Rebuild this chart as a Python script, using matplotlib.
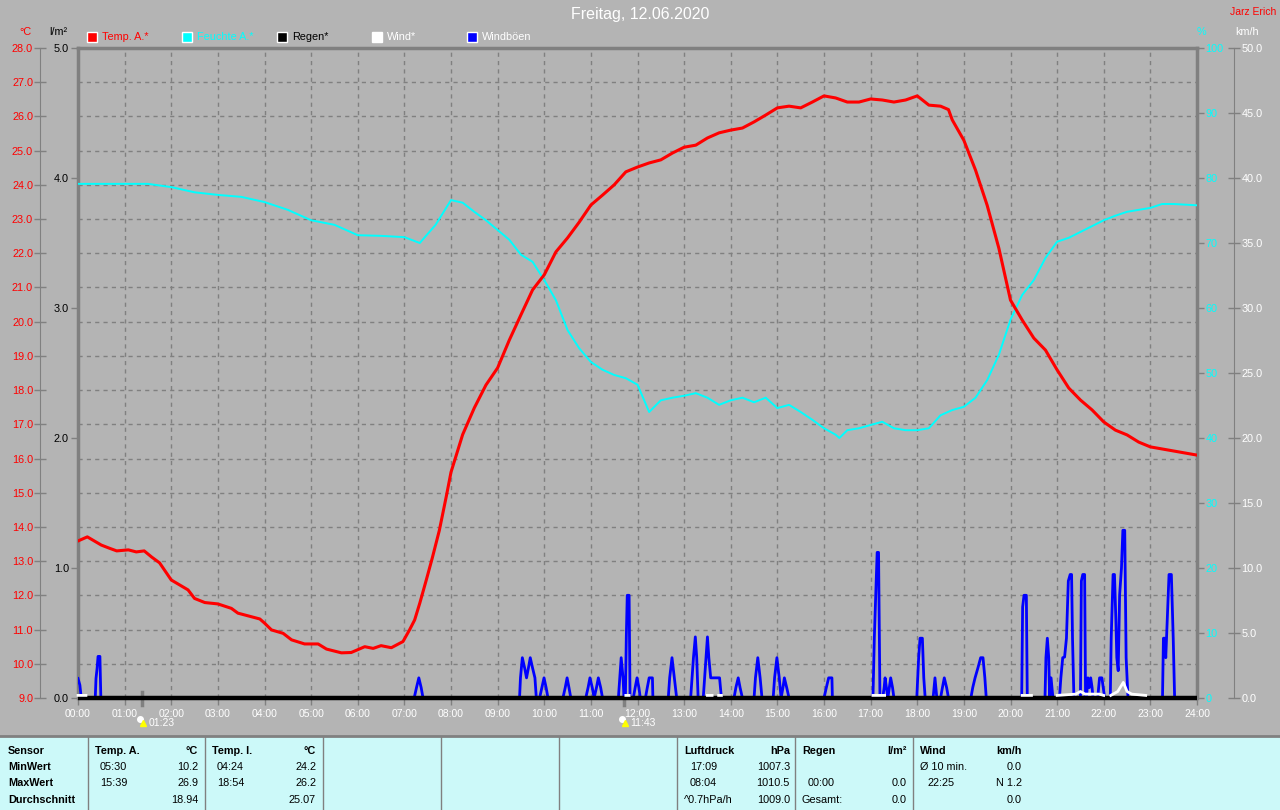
import numpy as np
import matplotlib
matplotlib.use("Agg")
import matplotlib.pyplot as plt
from matplotlib.patches import Rectangle

plt.rcParams['font.family'] = ['Liberation Sans', 'DejaVu Sans']

W, H = 1280, 810
BG = "#b4b4b4"
GRID = "#808080"
TABLE_BG = "#ccf9f9"
nan = np.nan

# outside temperature (hours, degC)
temp_h = [0.0, 0.2, 0.5, 0.67, 0.83, 1.08, 1.25, 1.42, 1.58, 1.75, 2.0, 2.36, 2.5, 2.72, 3.0,
          3.29, 3.43, 3.9, 4.0, 4.15, 4.4, 4.58, 4.86, 5.15, 5.33, 5.65, 5.86, 6.15, 6.33,
          6.5, 6.72, 6.97, 7.11, 7.22, 7.33, 7.47, 7.6, 7.75, 7.9, 8.0, 8.25, 8.5, 8.75,
          9.0, 9.25, 9.5, 9.75, 10.0, 10.25, 10.5, 10.75, 11.0, 11.25, 11.5, 11.75, 12.0,
          12.25, 12.5, 12.75, 13.0, 13.25, 13.5, 13.75, 14.0, 14.25, 14.5, 14.75, 15.0,
          15.25, 15.5, 15.75, 16.0, 16.25, 16.5, 16.75, 17.0, 17.25, 17.5, 17.75, 18.0,
          18.25, 18.5, 18.67, 18.75, 19.0, 19.25, 19.5, 19.75, 20.0, 20.25, 20.5, 20.75,
          21.0, 21.25, 21.5, 21.75, 22.0, 22.25, 22.5, 22.75, 23.0, 23.5, 24.0]
temp_c = [13.59, 13.71, 13.47, 13.38, 13.3, 13.33, 13.27, 13.3, 13.12, 12.95, 12.45, 12.16,
          11.91, 11.79, 11.75, 11.62, 11.48, 11.31, 11.19, 10.99, 10.89, 10.7, 10.58, 10.58,
          10.43, 10.32, 10.33, 10.5, 10.45, 10.53, 10.47, 10.65, 10.99, 11.28, 11.77, 12.45,
          13.1, 13.9, 14.9, 15.6, 16.7, 17.48, 18.15, 18.65, 19.46, 20.2, 20.93, 21.37,
          22.04, 22.45, 22.91, 23.41, 23.7, 24.0, 24.38, 24.52, 24.64, 24.73, 24.93, 25.1,
          25.16, 25.37, 25.52, 25.6, 25.66, 25.84, 26.04, 26.25, 26.3, 26.25, 26.42, 26.6,
          26.54, 26.42, 26.42, 26.51, 26.48, 26.42, 26.48, 26.6, 26.33, 26.3, 26.2, 25.9,
          25.3, 24.43, 23.4, 22.15, 20.63, 20.05, 19.52, 19.17, 18.59, 18.06, 17.71, 17.42,
          17.07, 16.83, 16.69, 16.48, 16.34, 16.22, 16.1]

# outside humidity (hours, %)
hum_h = [0.0, 1.5, 2.0, 2.5, 3.0, 3.5, 4.0, 4.5, 5.0, 5.5, 6.0, 6.5, 7.0, 7.33, 7.67, 8.0,
         8.25, 8.5, 8.75, 9.0, 9.25, 9.5, 9.75, 10.0, 10.25, 10.5, 10.75, 11.0, 11.25,
         11.5, 11.75, 12.0, 12.25, 12.5, 12.75, 13.0, 13.25, 13.5, 13.75, 14.0, 14.25,
         14.5, 14.75, 15.0, 15.25, 15.5, 15.75, 16.0, 16.25, 16.33, 16.5, 16.75, 17.0,
         17.25, 17.5, 17.75, 18.0, 18.25, 18.5, 18.75, 19.0, 19.25, 19.5, 19.75, 20.0,
         20.25, 20.5, 20.75, 21.0, 21.25, 21.5, 21.75, 22.0, 22.25, 22.5, 22.75, 23.0,
         23.25, 23.5, 24.0]
hum_pct = [79.1, 79.1, 78.6, 77.8, 77.4, 77.1, 76.3, 75.1, 73.5, 72.8, 71.2, 71.1, 70.9,
           70.0, 72.8, 76.6, 76.2, 74.8, 73.5, 72.0, 70.5, 68.2, 67.1, 64.3, 61.2, 56.6,
           53.8, 51.7, 50.5, 49.7, 49.2, 48.2, 44.0, 45.8, 46.2, 46.5, 46.9, 46.2, 45.1,
           45.8, 46.2, 45.5, 46.2, 44.6, 45.1, 44.0, 42.8, 41.5, 40.5, 40.0, 41.2, 41.5,
           42.0, 42.5, 41.5, 41.2, 41.2, 41.5, 43.5, 44.3, 44.8, 46.2, 48.9, 52.8, 58.2,
           62.0, 64.3, 67.7, 70.2, 70.8, 71.7, 72.6, 73.5, 74.2, 74.8, 75.1, 75.4, 76.0,
           76.0, 75.8]

# wind gusts (hours, km/h)
gust_h = [0.0, 0.04, 0.07,
          0.37, 0.386, 0.41, 0.43, 0.47, 0.49,
          7.21, 7.26, 7.31, 7.36, 7.40,
          9.47, 9.49, 9.53, 9.58, 9.62, 9.66, 9.70, 9.75, 9.80, 9.83,
          9.90, 9.95, 9.995, 10.04, 10.08,
          10.40, 10.45, 10.49, 10.53, 10.57,
          10.89, 10.94, 10.98, 11.03, 11.07, 11.12, 11.16, 11.21, 11.25,
          11.59, 11.62, 11.65, 11.69, 11.71, 11.74, 11.76, 11.78, 11.82, 11.84,
          11.91, 11.95, 11.99, 12.03, 12.06,
          12.17, 12.21, 12.25, 12.32, 12.33,
          12.66, 12.69, 12.74, 12.79, 12.84,
          13.14, 13.17, 13.20, 13.24, 13.27, 13.30,
          13.41, 13.44, 13.47, 13.50, 13.53, 13.57, 13.76, 13.80,
          14.07, 14.11, 14.16, 14.20, 14.25,
          14.50, 14.53, 14.58, 14.63, 14.67,
          14.91, 14.94, 14.99, 15.04, 15.08, 15.12, 15.15, 15.20, 15.25,
          16.00, 16.05, 16.10, 16.17, 16.18,
          17.05, 17.08, 17.11, 17.14, 17.17, 17.20,
          17.26, 17.29, 17.31, 17.34, 17.37, 17.40, 17.43, 17.47, 17.50,
          17.99, 18.03, 18.06, 18.11, 18.14, 18.17,
          18.34, 18.38, 18.42,
          18.50, 18.54, 18.58, 18.63, 18.67,
          19.15, 19.19, 19.24, 19.30, 19.36, 19.41, 19.45, 19.48,
          20.24, 20.26, 20.29, 20.34, 20.36,
          20.74, 20.76, 20.79, 20.82, 20.84, 20.87, 20.91,
          21.05, 21.08, 21.12, 21.16, 21.20, 21.24, 21.28, 21.31, 21.33, 21.36,
          21.50, 21.52, 21.55, 21.59, 21.61,
          21.63, 21.66, 21.69, 21.72, 21.75, 21.77,
          21.87, 21.91, 21.96, 21.99, 22.02,
          22.14, 22.16, 22.20, 22.23, 22.26, 22.28, 22.31, 22.34, 22.38, 22.41, 22.45, 22.48, 22.52,
          23.26, 23.28, 23.31, 23.33, 23.37, 23.40, 23.45, 23.49, 23.52]
gust_kmh = [1.5, 1.0, 0,
            0, 1.5, 2.3, 3.2, 3.2, 0,
            0, 0.8, 1.55, 0.8, 0,
            0, 1.55, 3.1, 2.3, 1.55, 2.3, 3.1, 2.3, 1.55, 0,
            0, 0.8, 1.55, 0.8, 0,
            0, 0.8, 1.55, 0.8, 0,
            0, 0.8, 1.55, 0.8, 0, 0.8, 1.55, 0.8, 0,
            0, 1.55, 3.1, 1.55, 0, 0, 4.7, 7.9, 7.9, 0,
            0, 0.8, 1.55, 0.8, 0,
            0, 0.8, 1.55, 1.55, 0,
            0, 1.55, 3.1, 1.55, 0,
            0, 1.55, 3.1, 4.7, 3.1, 0,
            0, 1.55, 3.1, 4.7, 3.1, 1.55, 1.55, 0,
            0, 0.8, 1.55, 0.8, 0,
            0, 1.55, 3.1, 1.55, 0,
            0, 1.55, 3.1, 1.55, 0, 0.8, 1.55, 0.8, 0,
            0, 0.8, 1.55, 1.55, 0,
            0, 4.7, 8.0, 11.2, 11.2, 0,
            0, 0.8, 1.55, 0.8, 0, 0.8, 1.55, 0.8, 0,
            0, 3.1, 4.6, 4.6, 1.55, 0,
            0, 1.55, 0,
            0, 0.8, 1.55, 0.8, 0,
            0, 0.8, 1.55, 2.3, 3.1, 3.1, 1.55, 0,
            0, 7.0, 7.9, 7.9, 0,
            0, 3.1, 4.6, 3.1, 0, 1.55, 0,
            0, 1.55, 3.1, 3.15, 4.6, 9.0, 9.5, 9.5, 4.6, 0,
            0, 9.0, 9.5, 9.5, 0,
            0, 1.55, 0.8, 1.55, 0.8, 0,
            0, 1.55, 1.55, 0.8, 0,
            0, 4.6, 9.5, 9.5, 6.0, 3.1, 2.1, 7.9, 10.0, 12.9, 12.9, 3.1, 0,
            0, 4.6, 4.6, 3.1, 6.8, 9.5, 9.5, 4.6, 0]

# mean wind (hours, km/h), gaps where no value is drawn
wind_h = [0.0, 0.17, nan, 11.75, 11.82, nan, 13.5, 13.6, nan, 13.74, 13.8, nan,
          17.05, 17.3, nan, 20.25, 20.45, nan, 21.0, 21.4, 21.5, 21.6, 21.9, 22.0, nan,
          22.15, 22.3, 22.42, 22.5, 22.6, 22.9]
wind_kmh = [0.2, 0.2, nan, 0.2, 0.2, nan, 0.2, 0.2, nan, 0.2, 0.2, nan,
            0.2, 0.2, nan, 0.2, 0.2, nan, 0.2, 0.3, 0.5, 0.3, 0.3, 0.2, nan,
            0.2, 0.5, 1.2, 0.5, 0.3, 0.2]

# rain (hours, l/m2)
rain_h = [0.0, 24.0]
rain_mm = [0.0, 0.0]

hour_labels = ["%02d:00" % h for h in range(25)]
temp_ticks = list(range(9, 29))
rain_ticks = [0, 1, 2, 3, 4, 5]
hum_ticks = list(range(0, 101, 10))
wind_ticks = list(range(0, 51, 5))

legend_names = ["Temp. A.*", "Feuchte A.*", "Regen*", "Wind*", "Windböen"]
legend_fill = ["red", "cyan", "black", "white", "blue"]
legend_text = ["red", "cyan", "black", "white", "white"]

# summary table below the chart: (text, x, y, align, bold)
table_cells = [
    ("Sensor", 8, 751, "left", True), ("MinWert", 8, 767, "left", True),
    ("MaxWert", 8, 783, "left", True), ("Durchschnitt", 8, 800, "left", True),
    ("Temp. A.", 95, 751, "left", True), ("°C", 198, 751, "right", True),
    ("05:30", 100, 767, "left", False), ("10.2", 198, 767, "right", False),
    ("15:39", 100, 783, "left", False), ("26.9", 198, 783, "right", False),
    ("18.94", 198, 800, "right", False),
    ("Temp. I.", 212, 751, "left", True), ("°C", 316, 751, "right", True),
    ("04:24", 217, 767, "left", False), ("24.2", 316, 767, "right", False),
    ("18:54", 217, 783, "left", False), ("26.2", 316, 783, "right", False),
    ("25.07", 316, 800, "right", False),
    ("Luftdruck", 684, 751, "left", True), ("hPa", 790, 751, "right", True),
    ("17:09", 690, 767, "left", False), ("1007.3", 790, 767, "right", False),
    ("08:04", 690, 783, "left", False), ("1010.5", 790, 783, "right", False),
    ("^0.7hPa/h", 684, 800, "left", False), ("1009.0", 790, 800, "right", False),
    ("Regen", 802, 751, "left", True), ("l/m²", 907, 751, "right", True),
    ("00:00", 808, 783, "left", False), ("0.0", 907, 783, "right", False),
    ("Gesamt:", 802, 800, "left", False), ("0.0", 907, 800, "right", False),
    ("Wind", 920, 751, "left", True), ("km/h", 1022, 751, "right", True),
    ("Ø 10 min.", 920, 767, "left", False), ("0.0", 1022, 767, "right", False),
    ("22:25", 927, 783, "left", False), ("N 1.2", 1022, 783, "right", False),
    ("0.0", 1022, 800, "right", False),
]
table_separators = [88, 205, 323, 441, 559, 677, 795, 913]


# pixel position -> figure fraction
def fx(x):
    return x / W


def fy(y):
    return 1 - y / H


def style_axis(a, side, color, labels, fmt, direction, length, pad):
    a.set_yticks(labels)
    a.set_yticklabels([fmt % v for v in labels])
    a.yaxis.set_ticks_position(side)
    a.tick_params(axis="y", direction=direction, length=length, width=1, color=GRID,
                  labelcolor=color, labelsize=7.8, pad=pad)
    for s in a.spines.values():
        s.set_visible(False)


fig = plt.figure(figsize=(12.8, 8.1), dpi=100, facecolor=BG)
ax = fig.add_axes([fx(78), 112 / H, 1119 / W, 650 / H])
ax.set_facecolor(BG)
ax.set_xlim(0, 24)
ax.set_ylim(9, 28)
ax.set_xticks(range(25))
ax.set_xticklabels(hour_labels)
ax.set_yticks(temp_ticks)
ax.tick_params(axis="y", length=0, labelleft=False)
ax.tick_params(axis="x", direction="out", length=5, width=1, color=GRID,
               labelcolor="white", labelsize=7.5, pad=3)
ax.grid(True, color=GRID, linestyle=(0, (3, 3)), linewidth=1)
for name in ["left", "top", "right"]:
    ax.spines[name].set_color(GRID)
    ax.spines[name].set_linewidth(2.5)
ax.spines["bottom"].set_color(GRID)

# gusts on their own km/h layer, under the black rain baseline
ax_g = ax.twinx()
ax_g.set_ylim(0, 50)
ax_g.set_yticks([])
for s in ax_g.spines.values():
    s.set_visible(False)
ax_g.set_zorder(2)

# rain axis (l/m2) on the frame
ax_r = ax.twinx()
ax_r.set_ylim(0, 5)
style_axis(ax_r, "left", "black", rain_ticks, "%.1f", "out", 5, 1.5)
ax_r.set_zorder(2.5)

# wind axis (km/h), offset right; white mean wind sits over the rain baseline
ax_w = ax.twinx()
ax_w.set_ylim(0, 50)
style_axis(ax_w, "right", "white", wind_ticks, "%.1f", "inout", 8, 1.5)
ax_w.spines["right"].set_visible(True)
ax_w.spines["right"].set_position(("axes", 1 + 37 / 1119))
ax_w.spines["right"].set_color(GRID)
ax_w.set_zorder(2.6)

# humidity axis (%)
ax_h = ax.twinx()
ax_h.set_ylim(0, 100)
style_axis(ax_h, "right", "cyan", hum_ticks, "%d", "out", 5, 1)
ax_h.set_zorder(3)

# temperature axis (degC), offset left
ax_t = ax.twinx()
ax_t.set_ylim(9, 28)
style_axis(ax_t, "left", "red", temp_ticks, "%.1f", "inout", 8, 1)
ax_t.spines["left"].set_visible(True)
ax_t.spines["left"].set_position(("axes", -38 / 1119))
ax_t.spines["left"].set_color(GRID)
ax_t.set_zorder(4)

ax_g.plot(gust_h, gust_kmh, color="blue", lw=2.0)
ax_g.set_ylim(0, 50)
ax_r.plot(rain_h, rain_mm, color="black", lw=3.2, clip_on=False, solid_capstyle="butt")
ax_r.set_ylim(0, 5)
ax_w.plot(wind_h, wind_kmh, color="white", lw=2, clip_on=False)
ax_w.set_ylim(0, 50)
ax_h.plot(hum_h, hum_pct, color="cyan", lw=1.4)
ax_t.plot(temp_h, temp_c, color="red", lw=2.2)

# title, owner and unit labels
fig.text(0.5, fy(15), "Freitag, 12.06.2020", color="white", fontsize=11.5,
         ha="center", va="center")
fig.text(fx(1276), fy(12), "Jarz Erich", color="red", fontsize=7.5, ha="right", va="center")
fig.text(fx(25), fy(32), "°C", color="red", fontsize=7.8, ha="center", va="center")
fig.text(fx(58), fy(32), "l/m²", color="black", fontsize=7.8, ha="center", va="center")
fig.text(fx(1201), fy(32), "%", color="cyan", fontsize=7.8, ha="center", va="center")
fig.text(fx(1247), fy(32), "km/h", color="white", fontsize=7.8, ha="center", va="center")

# legend squares
for i, name in enumerate(legend_names):
    x0 = 87 + i * 95
    fig.add_artist(Rectangle((fx(x0), fy(42)), 10 / W, 10 / H, transform=fig.transFigure,
                             facecolor=legend_fill[i], edgecolor="white", lw=1))
    fig.text(fx(x0 + 15), fy(37), name, color=legend_text[i], fontsize=7.8,
             ha="left", va="center")

# sun markers under the time axis
for hx, label in [(1.383, "01:23"), (11.717, "11:43")]:
    px = 78 + hx * 1119 / 24
    fig.add_artist(plt.Line2D([fx(px), fx(px)], [fy(692), fy(705)], color=GRID, lw=2.5,
                              transform=fig.transFigure))
    fig.add_artist(plt.Line2D([fx(px - 2)], [fy(719)], marker="o", ms=4, color="white",
                              transform=fig.transFigure))
    fig.add_artist(plt.Line2D([fx(px + 1)], [fy(723)], marker="^", ms=5, color="yellow",
                              transform=fig.transFigure))
    fig.text(fx(px + 6), fy(723), label, color="white", fontsize=7.5, ha="left", va="center")

# summary table
fig.add_artist(Rectangle((0, 0), 1, fy(736), transform=fig.transFigure,
                         facecolor=TABLE_BG, edgecolor="none"))
fig.add_artist(plt.Line2D([0, 1], [fy(736), fy(736)], color=GRID, lw=2,
                          transform=fig.transFigure))
for xs in table_separators:
    fig.add_artist(plt.Line2D([fx(xs), fx(xs)], [0, fy(737)], color=GRID, lw=1,
                              transform=fig.transFigure))
for text, x, y, align, bold in table_cells:
    fig.text(fx(x), fy(y), text, color="black", fontsize=7.8, ha=align, va="center",
             fontweight="bold" if bold else "normal")

fig.savefig("out.png", dpi=100, facecolor=BG)
